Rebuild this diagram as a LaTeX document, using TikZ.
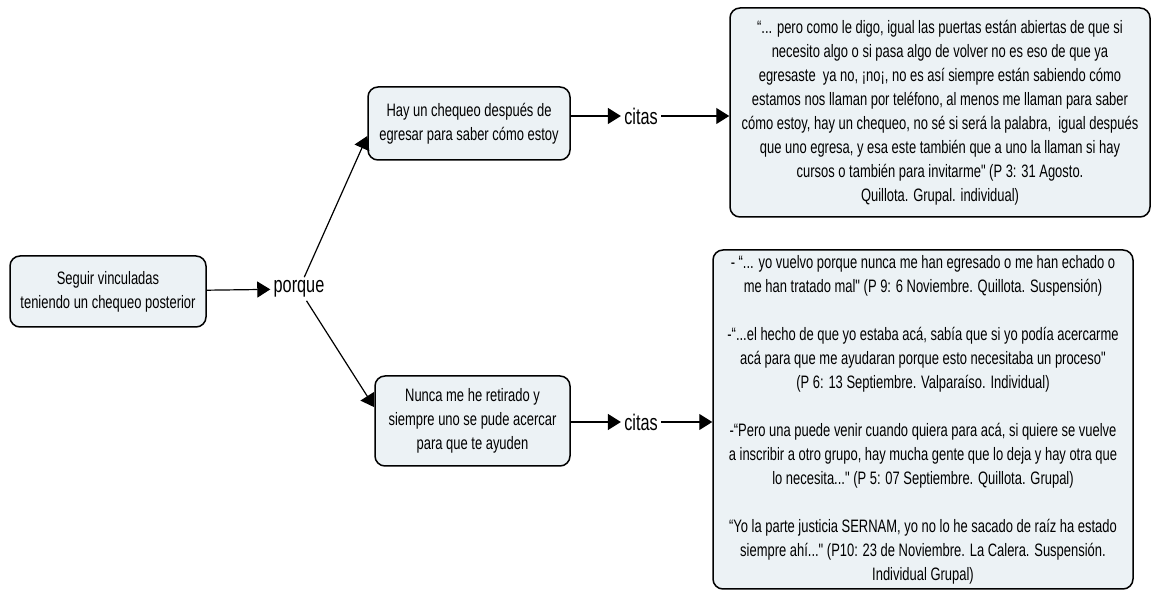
\documentclass[tikz,border=0pt]{standalone}
\usepackage{fontspec}
\setmainfont{Liberation Sans}[FakeStretch=0.72, Ligatures=TeXOff]
\usepackage{tikz}
\usetikzlibrary{positioning, arrows.meta}

\definecolor{boxfill}{RGB}{236,242,245}

\begin{document}
\begin{tikzpicture}
			[x=0.5pt, y=-0.5pt,
			 concept/.style={draw, rectangle, rounded corners=5pt, fill=boxfill, line width=0.75pt, align=center, font=\fontsize{9}{12}\selectfont, inner sep=0pt},
			 linkword/.style={font=\fontsize{11.3}{12}\selectfont, inner sep=1.5pt},
			 link/.style={-{Triangle[length=6.5pt, width=8pt]}, line width=0.6pt}]
			\useasboundingbox (0,0) rectangle (1152,592);
			% nodes %
			\node[concept, minimum width=98pt, minimum height=35.5pt] (seguir) at (108,291.5) {Seguir vinculadas\\teniendo un chequeo posterior};
			\node[linkword] (porque) at (299,289) {porque};
			\node[concept, minimum width=101pt, minimum height=36.5pt] (chequeo) at (469,123.5) {Hay un chequeo después de\\egresar para saber cómo estoy};
			\node[concept, minimum width=97.5pt, minimum height=45pt] (retirado) at (472.5,421) {Nunca me he retirado y\\siempre uno se pude acercar\\para que te ayuden};
			\node[linkword] (citasA) at (641,116) {citas};
			\node[linkword] (citasB) at (641,422) {citas};
			\node[concept, minimum width=210pt, minimum height=104.5pt] (citaA) at (940,112.5) {“... pero como le digo, igual las puertas están abiertas de que si\\necesito algo o si pasa algo de volver no es eso de que ya\\egresaste\ \ ya no, ¡no¡, no es así siempre están sabiendo cómo\\estamos nos llaman por teléfono, al menos me llaman para saber\\cómo estoy, hay un chequeo, no sé si será la palabra,\ \ igual después\\que uno egresa, y esa este también que a uno la llaman si hay\\cursos o también para invitarme" (P 3: 31 Agosto.\\Quillota. Grupal. individual)};
			\node[concept, minimum width=210pt, minimum height=169.5pt] (citaB) at (923,419.5) {- “... yo vuelvo porque nunca me han egresado o me han echado o\\me han tratado mal" (P 9: 6 Noviembre. Quillota. Suspensión)\\[12pt]-“...el hecho de que yo estaba acá, sabía que si yo podía acercarme\\acá para que me ayudaran porque esto necesitaba un proceso"\\(P 6: 13 Septiembre. Valparaíso. Individual)\\[12pt]-“Pero una puede venir cuando quiera para acá, si quiere se vuelve\\a inscribir a otro grupo, hay mucha gente que lo deja y hay otra que\\lo necesita..." (P 5: 07 Septiembre. Quillota. Grupal)\\[12pt]“Yo la parte justicia SERNAM, yo no lo he sacado de raíz ha estado\\siempre ahí..." (P10: 23 de Noviembre. La Calera. Suspensión.\\Individual Grupal)};

			% edges %
			\draw[link] (seguir) -- (porque);
			\draw[link] (porque) -- (chequeo.187);
			\draw[link] (porque) -- (retirado.172);
			\draw[link] (chequeo.east |- citasA.west) -- (citasA);
			\draw[link] (citasA) -- (citaA.west |- citasA.east);
			\draw[link] (retirado.east |- citasB.west) -- (citasB);
			\draw[link] (citasB) -- (citaB.west |- citasB.east);
			\end{tikzpicture}
\end{document}
